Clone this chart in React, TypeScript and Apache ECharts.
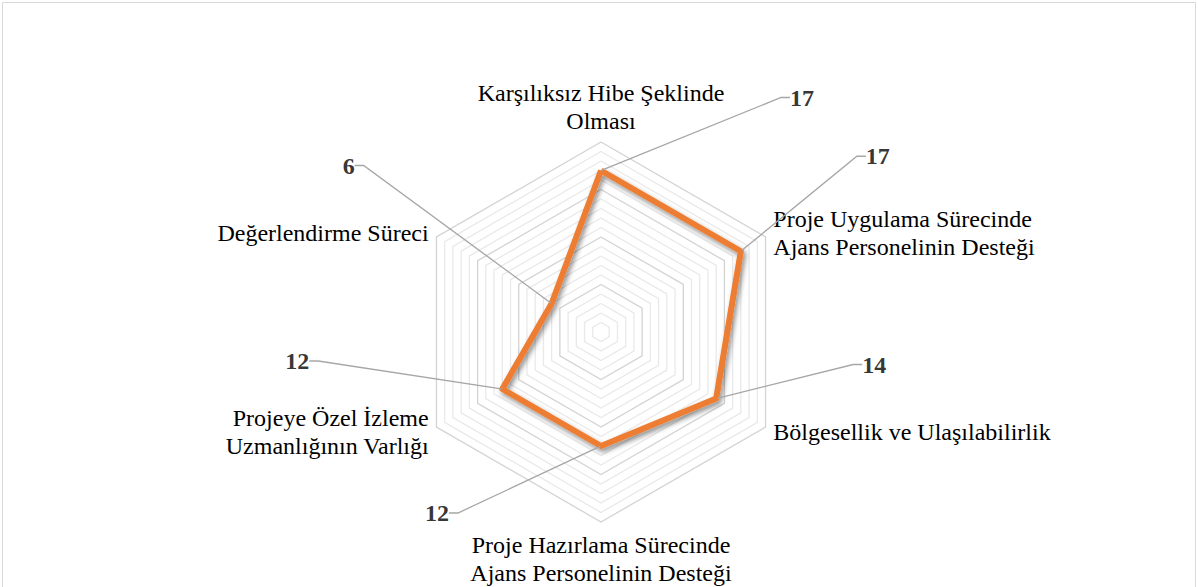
import React, { useEffect, useRef } from "react";
import * as echarts from "echarts";

// Categories in clockwise order starting at the top
const categories: string[] = [
  "Karşılıksız Hibe Şeklinde\nOlması",
  "Proje Uygulama Sürecinde\nAjans Personelinin Desteği",
  "Bölgesellik ve Ulaşılabilirlik",
  "Proje Hazırlama Sürecinde\nAjans Personelinin Desteği",
  "Projeye Özel İzleme\nUzmanlığının Varlığı",
  "Değerlendirme Süreci",
];
const values: number[] = [17, 17, 14, 12, 12, 6];
const axisMax = 20;

// label offsets (pixels) from each point, for the leader-line labels
const labelDx: number[] = [201, 137, 158, -164, -205, -203];
const labelDy: number[] = [-71, -93, -32, 69, -26, -136];

const CENTER = [601, 332];
const RADIUS = 190;
const FONT = "Liberation Serif";

export default function App() {
  const ref = useRef<HTMLDivElement>(null);
  useEffect(() => {
    if (!ref.current) return;
    const chart = echarts.init(ref.current, null, { renderer: "svg" });
    // ECharts radar places indicators counter-clockwise; reorder to match clockwise layout
    const order = [0, ...categories.map((_, i) => i).slice(1).reverse()];
    const indicator = order.map((i) => ({ name: categories[i], min: 0, max: axisMax }));
    const radarValues = order.map((i) => values[i]);
    const n = categories.length;

    chart.setOption({
      animation: false,
      backgroundColor: "#ffffff",
      textStyle: { fontFamily: FONT },
      graphic: [
        {
          type: "rect",
          shape: { x: 2.5, y: 2.5, width: 1193, height: 620 },
          style: { fill: "none", stroke: "#d9d9d9", lineWidth: 1 },
          silent: true,
        },
      ],
      radar: {
        center: CENTER,
        radius: RADIUS,
        startAngle: 90,
        shape: "polygon",
        splitNumber: 20,
        indicator,
        nameGap: 9,
        axisName: {
          color: "#000",
          fontFamily: FONT,
          fontSize: 24,
          lineHeight: 28,
          formatter: (name: string) => {
            const style = name === categories[0] ? "t" : "n";
            return name
              .split("\n")
              .map((s) => `{${style}|${s}}`)
              .join("\n");
          },
          rich: {
            n: { fontFamily: FONT, fontSize: 24, lineHeight: 28, color: "#000" },
            t: { fontFamily: FONT, fontSize: 24, lineHeight: 28, color: "#000", padding: [0, 0, -3, 0] },
          },
        },
        axisLine: { show: false },
        axisTick: { show: false },
        axisLabel: { show: false },
        splitArea: { show: false },
        splitLine: {
          lineStyle: {
            color: ["#d3d3d3", "#e9e9e9", "#e9e9e9", "#e9e9e9", "#e9e9e9"],
            width: 1.3,
          },
        },
      },
      polar: { center: CENTER, radius: RADIUS },
      angleAxis: {
        type: "value",
        min: 0,
        max: 360,
        startAngle: 90,
        clockwise: true,
        show: false,
      },
      radiusAxis: { type: "value", min: 0, max: axisMax, show: false },
      series: [
        {
          type: "radar",
          symbol: "none",
          lineStyle: {
            color: "#ED7D31",
            width: 6,
            shadowColor: "rgba(0,0,0,0.45)",
            shadowBlur: 5,
            shadowOffsetX: 2,
            shadowOffsetY: 3,
          },
          itemStyle: { color: "#ED7D31" },
          data: [{ value: radarValues }],
          silent: true,
        },
        {
          type: "scatter",
          coordinateSystem: "polar",
          symbolSize: 2,
          itemStyle: { color: "rgba(0,0,0,0)" },
          data: values.map((v, i) => [v, (i * 360) / n]),
          label: {
            show: true,
            position: "top",
            distance: 0,
            formatter: (p: any) => String(p.value[0]),
            fontFamily: FONT,
            fontSize: 24,
            fontWeight: "bold",
            color: "#000000",
            textBorderWidth: 0,
            padding: [2, 7],
          },
          labelLayout: (p: any) => ({ dx: labelDx[p.dataIndex], dy: labelDy[p.dataIndex] + 13 }),
          labelLine: {
            show: true,
            length2: 9,
            lineStyle: { color: "#a6a6a6", width: 1.3 },
          },
          silent: true,
        },
      ],
    });
    return () => chart.dispose();
  }, []);
  return (
    <div
      ref={ref}
      style={{ position: "fixed", left: 0, top: 0, width: 1198, height: 587 }}
    />
  );
}
